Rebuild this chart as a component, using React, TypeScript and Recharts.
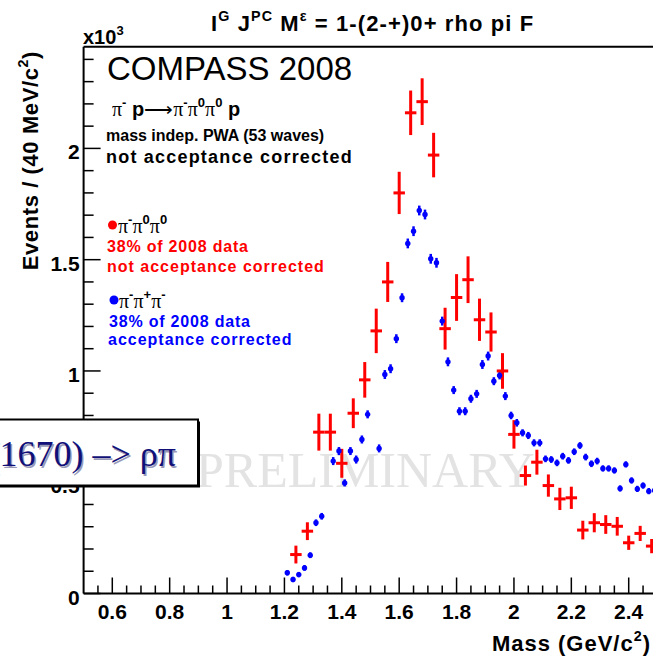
import React from "react";
import { ScatterChart, Scatter, XAxis, YAxis, ErrorBar, ReferenceLine } from "recharts";

// pi- pi0 pi0, 40 MeV bins (values in 10^3 events)
const redMass = [1.24, 1.28, 1.32, 1.36, 1.4, 1.44, 1.48, 1.52, 1.56, 1.6, 1.64, 1.68, 1.72, 1.76, 1.8, 1.84, 1.88, 1.92, 1.96, 2.0, 2.04, 2.08, 2.12, 2.16, 2.2, 2.24, 2.28, 2.32, 2.36, 2.4, 2.44, 2.48];
const redVal = [0.175, 0.28, 0.725, 0.725, 0.585, 0.81, 0.96, 1.18, 1.4, 1.8, 2.16, 2.21, 1.97, 1.19, 1.33, 1.41, 1.23, 1.175, 1.0, 0.715, 0.53, 0.59, 0.485, 0.425, 0.43, 0.285, 0.318, 0.31, 0.302, 0.228, 0.27, 0.213];
const redErr = [0.04, 0.04, 0.083, 0.083, 0.065, 0.067, 0.08, 0.1, 0.09, 0.095, 0.1, 0.105, 0.1, 0.094, 0.105, 0.105, 0.095, 0.088, 0.08, 0.064, 0.045, 0.056, 0.05, 0.05, 0.05, 0.042, 0.043, 0.042, 0.042, 0.032, 0.034, 0.032];

// pi- pi+ pi-, 20 MeV bins
const blueMass = [1.21, 1.23, 1.25, 1.27, 1.29, 1.31, 1.33, 1.37, 1.39, 1.41, 1.43, 1.45, 1.47, 1.49, 1.53, 1.55, 1.57, 1.59, 1.61, 1.63, 1.65, 1.67, 1.69, 1.71, 1.73, 1.75, 1.77, 1.79, 1.81, 1.83, 1.85, 1.87, 1.89, 1.91, 1.93, 1.95, 1.97, 1.99, 2.01, 2.03, 2.05, 2.07, 2.09, 2.11, 2.13, 2.15, 2.17, 2.19, 2.21, 2.23, 2.25, 2.27, 2.29, 2.31, 2.33, 2.35, 2.37, 2.39, 2.41, 2.43, 2.45, 2.47, 2.49];
const blueVal = [0.093, 0.063, 0.085, 0.115, 0.172, 0.318, 0.347, 0.595, 0.64, 0.497, 0.64, 0.602, 0.692, 0.805, 0.652, 0.984, 1.01, 1.145, 1.329, 1.573, 1.628, 1.721, 1.703, 1.504, 1.486, 1.224, 1.041, 0.914, 0.819, 0.819, 0.875, 0.897, 1.029, 1.067, 0.954, 0.98, 0.887, 0.8, 0.767, 0.722, 0.71, 0.677, 0.677, 0.605, 0.602, 0.587, 0.617, 0.598, 0.637, 0.665, 0.613, 0.583, 0.595, 0.562, 0.562, 0.553, 0.472, 0.58, 0.508, 0.47, 0.485, 0.46, 0.463];
const blueErr = [0.012, 0.012, 0.012, 0.013, 0.013, 0.015, 0.015, 0.018, 0.018, 0.016, 0.018, 0.018, 0.018, 0.018, 0.018, 0.02, 0.02, 0.02, 0.02, 0.022, 0.022, 0.022, 0.022, 0.022, 0.022, 0.02, 0.02, 0.018, 0.018, 0.018, 0.018, 0.018, 0.02, 0.02, 0.018, 0.018, 0.018, 0.017, 0.017, 0.016, 0.016, 0.016, 0.016, 0.015, 0.015, 0.015, 0.015, 0.015, 0.015, 0.015, 0.015, 0.015, 0.015, 0.014, 0.014, 0.014, 0.014, 0.014, 0.014, 0.014, 0.014, 0.014, 0.014];

const xMajor = [0.6, 0.8, 1, 1.2, 1.4, 1.6, 1.8, 2, 2.2, 2.4];
const xLabels = ["0.6", "0.8", "1", "1.2", "1.4", "1.6", "1.8", "2", "2.2", "2.4"];
const yMajor = [0, 0.5, 1, 1.5, 2];
const yLabels = ["0", "0.5", "1", "1.5", "2"];

const redData = redMass.map((m, i) => ({ m, v: redVal[i], ey: redErr[i], ex: 0.02 }));
const blueData = blueMass.map((m, i) => ({ m, v: blueVal[i], ey: blueErr[i] }));

// minor ticks: every 0.05 GeV on x, every 0.1 on y
const xTicks: number[] = [];
for (let k = 11; k <= 49; k++) xTicks.push(+(k * 0.05).toFixed(2));
const yTicks: number[] = [];
for (let k = 0; k <= 24; k++) yTicks.push(+(k * 0.1).toFixed(1));

const SANS = "'Liberation Sans', Arial, Helvetica, sans-serif";
const SERIF = "'Liberation Serif', 'Times New Roman', serif";

const findMajor = (list: number[], v: number) => list.findIndex((t) => Math.abs(t - v) < 1e-6);

const XTick = (props: any) => {
  const { x, y, payload } = props;
  const idx = findMajor(xMajor, payload.value);
  return (
    <g>
      <line x1={x} x2={x} y1={y} y2={y - (idx >= 0 ? 16 : 8)} stroke="#000" strokeWidth={1.5} />
      {idx >= 0 && (
        <text x={x} y={y + 25} textAnchor="middle" fontSize={21} fontWeight="bold" fontFamily={SANS} fill="#000">
          {xLabels[idx]}
        </text>
      )}
    </g>
  );
};

const YTick = (props: any) => {
  const { x, y, payload } = props;
  const idx = findMajor(yMajor, payload.value);
  return (
    <g>
      <line x1={x} x2={x + (idx >= 0 ? 17 : 10)} y1={y} y2={y} stroke="#000" strokeWidth={1.5} />
      {idx >= 0 && (
        <text x={x - 4} y={y + 11} textAnchor="end" fontSize={21} fontWeight="bold" fontFamily={SANS} fill="#000">
          {yLabels[idx]}
        </text>
      )}
    </g>
  );
};

const BlueDot = (props: any) => <circle cx={props.cx} cy={props.cy} r={2.7} fill="#0000ff" />;
const NoDot = () => <g />;

type Piece = { t: string; sup?: boolean; serif?: boolean };

function Formula({ x, y, size, pieces, fill = "#000", weight = "bold", spacing = 0, anchor = "start", rotate }: any) {
  let shift = 0;
  return (
    <text
      x={x}
      y={y}
      fontSize={size}
      fill={fill}
      fontWeight={weight}
      fontFamily={SANS}
      letterSpacing={spacing}
      textAnchor={anchor}
      transform={rotate ? `rotate(${rotate} ${x} ${y})` : undefined}
    >
      {(pieces as Piece[]).map((p, i) => {
        const target = p.sup ? -size * 0.45 : 0;
        const dy = target - shift;
        shift = target;
        return (
          <tspan key={i} dy={dy} fontSize={p.sup ? size * 0.65 : size} fontFamily={p.serif ? SERIF : undefined} fontWeight={p.serif ? "normal" : undefined}>
            {p.t}
          </tspan>
        );
      })}
    </text>
  );
}

export default function App() {
  return (
    <div style={{ position: "absolute", left: 0, top: 0, width: 653, height: 659, overflow: "hidden", background: "#fff" }}>
      <svg width={653} height={659} style={{ position: "absolute", left: 0, top: 0 }}>
        <text x={196} y={487} fontSize={50} fontFamily={SERIF} fill="#e3e3e3">PRELIMINARY</text>
      </svg>
      <div style={{ position: "absolute", left: 0, top: 0 }}>
        <ScatterChart width={660} height={659} margin={{ top: 46.7, right: 2.6, bottom: 35.5, left: 43.6 }}>
          <XAxis
            type="number"
            dataKey="m"
            domain={[0.5, 2.5]}
            ticks={xTicks}
            interval={0}
            tick={XTick}
            tickLine={false}
            tickSize={0}
            tickMargin={0}
            height={30}
            axisLine={{ stroke: "#000", strokeWidth: 2 }}
            allowDataOverflow
          />
          <YAxis
            type="number"
            dataKey="v"
            domain={[0, 2.457]}
            ticks={yTicks}
            interval={0}
            tick={YTick}
            tickLine={false}
            tickSize={0}
            tickMargin={0}
            width={40}
            axisLine={{ stroke: "#000", strokeWidth: 2 }}
            allowDataOverflow
          />
          <ReferenceLine y={2.457} stroke="#000" strokeWidth={2} />
          <ReferenceLine x={2.5} stroke="#000" strokeWidth={2} />
          <Scatter data={blueData} shape={BlueDot} isAnimationActive={false}>
            <ErrorBar dataKey="ey" direction="y" width={0} stroke="#0000ff" strokeWidth={2.5} isAnimationActive={false} />
          </Scatter>
          <Scatter data={redData} shape={NoDot} isAnimationActive={false}>
            <ErrorBar dataKey="ey" direction="y" width={0} stroke="#ff0000" strokeWidth={3} isAnimationActive={false} />
            <ErrorBar dataKey="ex" direction="x" width={0} stroke="#ff0000" strokeWidth={3} isAnimationActive={false} />
          </Scatter>
        </ScatterChart>
      </div>
      <svg width={653} height={659} style={{ position: "absolute", left: 0, top: 0, pointerEvents: "none" }}>
        <Formula
          x={211}
          y={31}
          size={22}
          spacing={1.1}
          pieces={[{ t: "I" }, { t: "G", sup: true }, { t: " J" }, { t: "PC", sup: true }, { t: " M" }, { t: "ε", sup: true }, { t: " = 1-(2-+)0+ rho pi F" }]}
        />
        <Formula x={83} y={44} size={20} pieces={[{ t: "x10" }, { t: "3", sup: true }]} />
        <Formula
          x={38}
          y={51}
          size={22}
          spacing={0.6}
          anchor="end"
          rotate={-90}
          pieces={[{ t: "Events / (40 MeV/c" }, { t: "2", sup: true }, { t: ")" }]}
        />
        <Formula x={651} y={651} size={22} spacing={1} anchor="end" pieces={[{ t: "Mass (GeV/c" }, { t: "2", sup: true }, { t: ")" }]} />

        <text x={107} y={80} fontSize={33} fontFamily={SANS} fill="#000">COMPASS 2008</text>
        <Formula
          x={112}
          y={116}
          size={20}
          pieces={[
            { t: "π", serif: true }, { t: "-", sup: true }, { t: " p" }, { t: "⟶", serif: true },
            { t: "π", serif: true }, { t: "-", sup: true },
            { t: "π", serif: true }, { t: "0", sup: true },
            { t: "π", serif: true }, { t: "0", sup: true }, { t: " p" },
          ]}
        />
        <text x={106} y={141} fontSize={16} fontWeight="bold" fontFamily={SANS} fill="#000">mass indep. PWA (53 waves)</text>
        <text x={106} y={163} fontSize={18} fontWeight="bold" fontFamily={SANS} letterSpacing={1.2} fill="#000">not acceptance corrected</text>

        <circle cx={112.5} cy={225} r={4.5} fill="#ff0000" />
        <Formula
          x={118}
          y={233}
          size={20}
          pieces={[{ t: "π", serif: true }, { t: "-", sup: true }, { t: "π", serif: true }, { t: "0", sup: true }, { t: "π", serif: true }, { t: "0", sup: true }]}
        />
        <text x={107} y={251.5} fontSize={16} fontWeight="bold" fontFamily={SANS} letterSpacing={0.8} fill="#ff0000">38% of 2008 data</text>
        <text x={107} y={272} fontSize={16} fontWeight="bold" fontFamily={SANS} letterSpacing={1} fill="#ff0000">not acceptance corrected</text>

        <circle cx={114} cy={300} r={4.5} fill="#0000ff" />
        <Formula
          x={119}
          y={308}
          size={20}
          pieces={[{ t: "π", serif: true }, { t: "-", sup: true }, { t: "π", serif: true }, { t: "+", sup: true }, { t: "π", serif: true }, { t: "-", sup: true }]}
        />
        <text x={109} y={326.5} fontSize={16} fontWeight="bold" fontFamily={SANS} letterSpacing={0.8} fill="#0000ff">38% of 2008 data</text>
        <text x={108} y={345} fontSize={16} fontWeight="bold" fontFamily={SANS} letterSpacing={1} fill="#0000ff">acceptance corrected</text>

        <rect x={-8} y={421.5} width={208} height={66} fill="#000" />
        <rect x={-10} y={419.5} width={208} height={66} fill="#fff" stroke="#000" strokeWidth={2} />
        <text x={177.5} y={467.5} textAnchor="end" fontSize={36} fontFamily={SERIF} fill="#9a9ab8">π₂(1670) –&gt; ρπ</text>
        <text x={176} y={466} textAnchor="end" fontSize={36} fontFamily={SERIF} fill="#101078">π₂(1670) –&gt; ρπ</text>
      </svg>
    </div>
  );
}
